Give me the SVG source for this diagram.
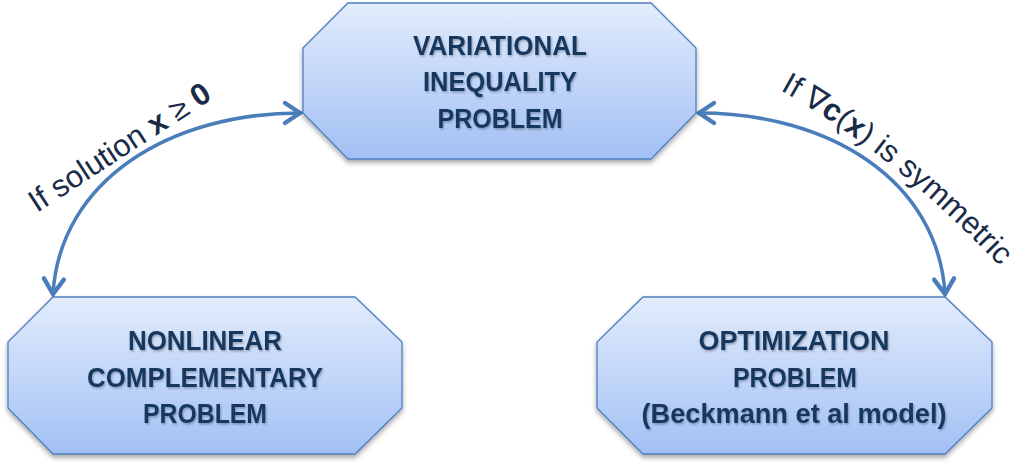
<svg xmlns="http://www.w3.org/2000/svg" width="1021" height="462" viewBox="0 0 1021 462">
<defs>
<linearGradient id="g" x1="0" y1="0" x2="0" y2="1">
<stop offset="0" stop-color="#e2ecfc"/>
<stop offset="1" stop-color="#a2c0f4"/>
</linearGradient>
<filter id="sh" x="-10%" y="-10%" width="120%" height="130%">
<feDropShadow dx="0" dy="3" stdDeviation="2.5" flood-color="#000" flood-opacity="0.35"/>
</filter>
<filter id="tsh" x="-10%" y="-20%" width="120%" height="150%">
<feDropShadow dx="1" dy="1.5" stdDeviation="1" flood-color="#000" flood-opacity="0.3"/>
</filter>
<marker id="ah" markerUnits="userSpaceOnUse" markerWidth="30" markerHeight="30" refX="0" refY="0" viewBox="-16 -12 20 24" orient="auto-start-reverse">
<path d="M-12,-8 L0,0 L-12,8" fill="none" stroke="#4a7ebb" stroke-width="3.5" stroke-linejoin="miter" stroke-linecap="round"/>
</marker>
</defs>
<style>
.node{fill:url(#g);stroke:#4f7fc0;stroke-width:1.3;filter:url(#sh)}
.nt{font-family:"Liberation Sans",Arial,sans-serif;font-weight:bold;font-size:27px;fill:#17375e;text-anchor:middle;filter:url(#tsh)}
.conn{fill:none;stroke:#4a7ebb;stroke-width:3.5;marker-start:url(#ah);marker-end:url(#ah)}
.lbl{font-family:"Liberation Sans",Arial,sans-serif;font-size:31px;fill:#1a2b48}
</style>
<g id="connectors">
<path class="conn" d="M53,294 C60,180 170,113 300,113"/>
<path class="conn" d="M699,113 C829,113 938,180 945,294"/>
</g>
<g id="label-left">
<text class="lbl" transform="translate(37,213) rotate(-33)">If solution <tspan font-weight="bold">x</tspan> ≥ <tspan font-weight="bold">0</tspan></text>
</g>
<g id="label-right">
<path id="rp" d="M780,90 Q902,158 1022,290" fill="none"/>
<text class="lbl"><textPath href="#rp">If ∇<tspan font-weight="bold">c</tspan>(<tspan font-weight="bold">x</tspan>) is symmetric</textPath></text>
</g>
<g id="node-vi">
<polygon class="node" points="348,3 651,3 696,48 696,113 651,159 348,159 303,113 303,48"/>
<text class="nt" x="500" y="55" textLength="174" lengthAdjust="spacingAndGlyphs">VARIATIONAL</text>
<text class="nt" x="500" y="91" textLength="154" lengthAdjust="spacingAndGlyphs">INEQUALITY</text>
<text class="nt" x="500" y="128" textLength="125" lengthAdjust="spacingAndGlyphs">PROBLEM</text>
</g>
<g id="node-ncp">
<polygon class="node" points="53,297 355,297 402,342 402,408 355,454 53,454 8,408 8,342"/>
<text class="nt" x="205" y="350" textLength="154" lengthAdjust="spacingAndGlyphs">NONLINEAR</text>
<text class="nt" x="205" y="387" textLength="236" lengthAdjust="spacingAndGlyphs">COMPLEMENTARY</text>
<text class="nt" x="205" y="423" textLength="124" lengthAdjust="spacingAndGlyphs">PROBLEM</text>
</g>
<g id="node-opt">
<polygon class="node" points="643,297 945,297 992,342 992,408 945,454 643,454 597,408 597,342"/>
<text class="nt" x="794" y="350" textLength="191" lengthAdjust="spacingAndGlyphs">OPTIMIZATION</text>
<text class="nt" x="795" y="387" textLength="124" lengthAdjust="spacingAndGlyphs">PROBLEM</text>
<text class="nt" x="794" y="423" textLength="305" lengthAdjust="spacingAndGlyphs">(Beckmann et al model)</text>
</g>
</svg>
